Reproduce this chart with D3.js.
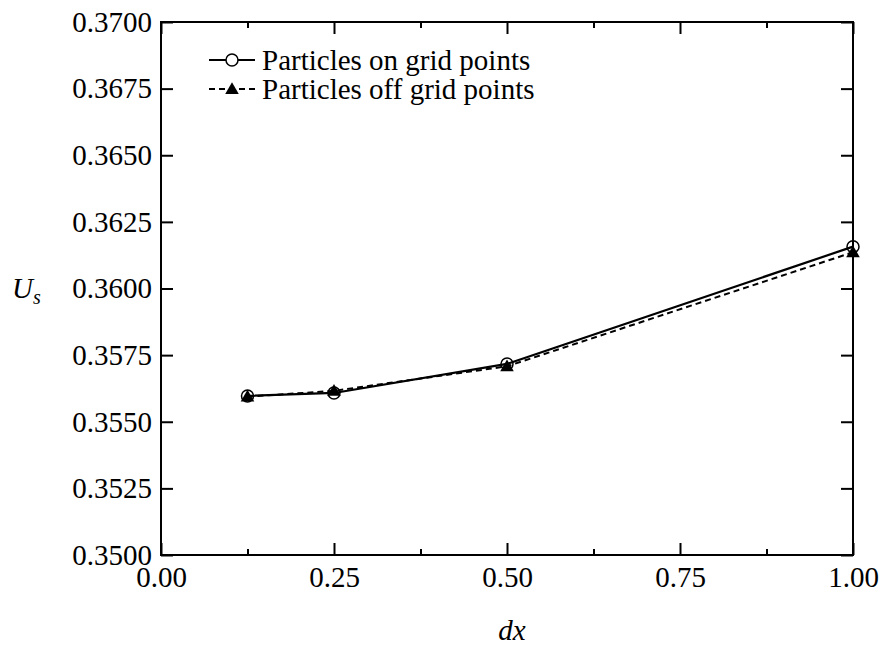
<!DOCTYPE html>
<html>
<head>
<meta charset="utf-8">
<script src="https://cdn.jsdelivr.net/npm/d3@7"></script>
<style>
  body { margin: 0; background: #fff; }
  svg text { font-family: 'Liberation Serif', 'Times New Roman', Times, 'DejaVu Serif', serif; fill: #000; }
</style>
</head>
<body>
<div id="chart"></div>
<script>
// values
var dxValues = [0.125, 0.25, 0.5, 1.0];
var onGrid = [0.35597, 0.35608, 0.35717, 0.36157];
var offGrid = [0.35594, 0.35616, 0.35708, 0.36136];
var xTicks = [0, 0.25, 0.5, 0.75, 1.0];
var xMinorTicks = [0.125, 0.375, 0.625, 0.875];
var yTicks = [0.35, 0.3525, 0.355, 0.3575, 0.36, 0.3625, 0.365, 0.3675, 0.37];
var seriesNames = ["Particles on grid points", "Particles off grid points"];

var width = 885, height = 647;
var margin = { top: 22, right: 32, bottom: 92, left: 161 },
    w = width - margin.left - margin.right,
    h = height - margin.top - margin.bottom;

var serif = "'Liberation Serif', 'Times New Roman', Times, 'DejaVu Serif', serif";

var svg = d3.select("#chart").append("svg")
    .attr("width", width)
    .attr("height", height)
    .attr("font-family", serif);

var g = svg.append("g")
    .attr("transform", "translate(" + margin.left + "," + margin.top + ")");

var x = d3.scaleLinear().domain([0, 1]).range([0, w]);
var y = d3.scaleLinear().domain([0.35, 0.37]).range([h, 0]);

// axes, ticks point inward
function styleAxis(sel) {
  sel.attr("font-family", serif).attr("font-size", 29);
  sel.select(".domain").remove();
  sel.selectAll(".tick line").attr("stroke", "#000").attr("stroke-width", 2);
  sel.selectAll("text").attr("fill", "#000");
}

g.append("g").attr("transform", "translate(0," + h + ")")
  .call(d3.axisBottom(x).tickValues(xTicks).tickSize(-12).tickPadding(11).tickFormat(d3.format(".2f")))
  .call(styleAxis);
g.append("g").attr("transform", "translate(0," + h + ")")
  .call(d3.axisBottom(x).tickValues(xMinorTicks).tickSize(-6).tickFormat(""))
  .call(styleAxis);
g.append("g")
  .call(d3.axisTop(x).tickValues(xTicks).tickSize(-12).tickFormat(""))
  .call(styleAxis);
g.append("g")
  .call(d3.axisTop(x).tickValues(xMinorTicks).tickSize(-6).tickFormat(""))
  .call(styleAxis);
g.append("g")
  .call(d3.axisLeft(y).tickValues(yTicks).tickSize(-12).tickPadding(9).tickFormat(d3.format(".4f")))
  .call(styleAxis);
g.append("g").attr("transform", "translate(" + w + ",0)")
  .call(d3.axisRight(y).tickValues(yTicks).tickSize(-12).tickFormat(""))
  .call(styleAxis);

// frame
g.append("rect")
  .attr("width", w).attr("height", h)
  .attr("fill", "none").attr("stroke", "#000").attr("stroke-width", 2);

var line = d3.line()
  .x(function(d) { return x(d[0]); })
  .y(function(d) { return y(d[1]); });

var onData = dxValues.map(function(d, i) { return [d, onGrid[i]]; });
var offData = dxValues.map(function(d, i) { return [d, offGrid[i]]; });

g.append("path").datum(offData)
  .attr("d", line).attr("fill", "none").attr("stroke", "#000")
  .attr("stroke-width", 2).attr("stroke-dasharray", "6,4");
g.append("path").datum(onData)
  .attr("d", line).attr("fill", "none").attr("stroke", "#000")
  .attr("stroke-width", 2.2);

var tri = d3.symbol().type(d3.symbolTriangle).size(80);

g.selectAll(".tri").data(offData).enter().append("path")
  .attr("class", "tri")
  .attr("transform", function(d) { return "translate(" + x(d[0]) + "," + (y(d[1]) + 1) + ")"; })
  .attr("d", tri).attr("fill", "#000");

g.selectAll(".circ").data(onData).enter().append("circle")
  .attr("class", "circ")
  .attr("cx", function(d) { return x(d[0]); })
  .attr("cy", function(d) { return y(d[1]); })
  .attr("r", 6).attr("fill", "none").attr("stroke", "#000").attr("stroke-width", 1.5);

// legend
var legend = svg.append("g").attr("transform", "translate(209,60)");
legend.append("line").attr("x1", 0).attr("x2", 46).attr("y1", 0).attr("y2", 0)
  .attr("stroke", "#000").attr("stroke-width", 2);
legend.append("circle").attr("cx", 23).attr("cy", 0).attr("r", 6)
  .attr("fill", "#fff").attr("stroke", "#000").attr("stroke-width", 1.5);
legend.append("text").attr("x", 53).attr("y", 0).attr("dy", "0.33em")
  .attr("font-size", 29).text(seriesNames[0]);

legend.append("line").attr("x1", 0).attr("x2", 46).attr("y1", 29).attr("y2", 29)
  .attr("stroke", "#000").attr("stroke-width", 2).attr("stroke-dasharray", "6,4");
legend.append("path").attr("transform", "translate(23,30)").attr("d", tri).attr("fill", "#000");
legend.append("text").attr("x", 53).attr("y", 29).attr("dy", "0.33em")
  .attr("font-size", 29).text(seriesNames[1]);

// axis titles
var yLabel = svg.append("text").attr("x", 12).attr("y", 298)
  .attr("font-size", 29).attr("font-style", "italic");
yLabel.append("tspan").text("U");
yLabel.append("tspan").attr("dy", 6).attr("font-size", 20).text("s");

svg.append("text").attr("x", 512).attr("y", 640)
  .attr("text-anchor", "middle")
  .attr("font-size", 29).attr("font-style", "italic")
  .text("dx");
</script>
</body>
</html>
